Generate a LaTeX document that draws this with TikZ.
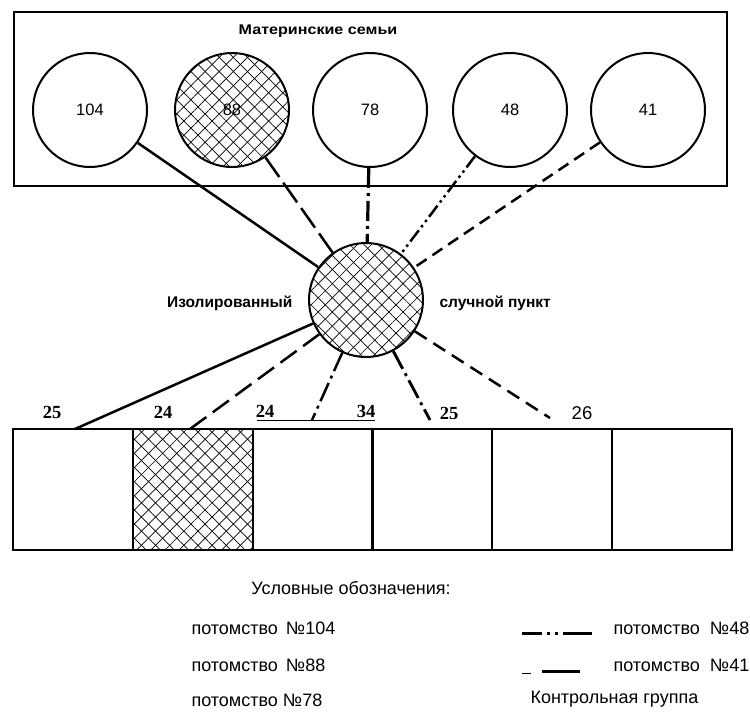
\documentclass[tikz,border=0pt]{standalone}
\usepackage{fontspec}
\setmainfont{Liberation Sans}
\newfontfamily\numserif{Liberation Serif}
\usetikzlibrary{patterns.meta}
\begin{document}
\begin{tikzpicture}[x=1pt,y=-1pt,
  famcirc/.style={circle,draw,line width=2pt,minimum size=114pt,inner sep=0pt,font=\fontsize{16.5}{16.5}\selectfont},
  hatched/.style={postaction={pattern={Lines[angle=45,distance=10pt,line width=0.7pt]}},
                  postaction={pattern={Lines[angle=-45,distance=10pt,line width=0.7pt]}}},
  cell/.style={rectangle,draw,line width=2.2pt,minimum width=119.8pt,minimum height=121pt,inner sep=0pt},
  conn/.style={line width=2.5pt},
  l88/.style={dash pattern=on 24pt off 7pt},
  l78/.style={dash pattern=on 20pt off 5pt on 3pt off 5pt},
  l48/.style={dash pattern=on 14pt off 4pt on 2.5pt off 4pt on 2.5pt off 4pt},
  l41/.style={dash pattern=on 12pt off 7pt},
  lbl/.style={font=\fontsize{15.5}{16}\selectfont\bfseries},
  numlbl/.style={font=\fontsize{18.5}{18.5}\selectfont\numserif\bfseries},
  legtxt/.style={font=\fontsize{18}{18}\selectfont,anchor=west}
]
\useasboundingbox (0,0) rectangle (750,715);
% top frame
\node[rectangle,draw,line width=2.2pt,minimum width=713pt,minimum height=174pt,inner sep=0pt] (topframe) at (370.5,99) {};
\node (title) at (318,31) {\fontsize{14}{14}\selectfont\bfseries\scalebox{1.15}[1]{Материнские семьи}};
% family circles
\node[famcirc] (c104) at (90,110) {104};
\node[famcirc,hatched] (c88) at (232,110) {88};
\node[famcirc] (c78) at (370,110) {78};
\node[famcirc] (c48) at (510,110) {48};
\node[famcirc] (c41) at (648,110) {41};
% isolated mating point
\node[circle,draw,line width=2pt,minimum size=114pt,inner sep=0pt,hatched] (mid) at (366,300) {};
\node[lbl,anchor=east] (lleft) at (296,303) {Изолированный};
\node[lbl,anchor=west] (lright) at (436,303) {случной пункт};
% upper connectors
\draw[conn] (c104) -- (mid);
\draw[conn,l88] (c88) -- (mid);
\draw[conn,l78,line width=3.2pt] (c78) -- (mid);
\draw[conn,l48] (c48) -- (mid);
\draw[conn,l41] (c41) -- (mid);
% bottom cells
\node[cell] (b1) at (72.9,489.5) {};
\node[cell,hatched] (b2) at (192.7,489.5) {};
\node[cell] (b3) at (312.5,489.5) {};
\node[cell] (b4) at (432.3,489.5) {};
\node[cell] (b5) at (552.1,489.5) {};
\node[cell] (b6) at (671.9,489.5) {};
% lower connector ends
\coordinate (e1) at (75,429);
\coordinate (e2) at (190,429);
\coordinate (e3) at (312,420);
\coordinate (e4) at (430,420);
\coordinate (e5) at (550,418);
\draw[conn] (mid) -- (e1);
\draw[conn,dash pattern=on 20pt off 8pt] (mid) -- (e2);
\draw[conn,l78] (mid) -- (e3);
\draw[conn,l78,line width=2.9pt] (mid) -- (e4);
\draw[conn,dash pattern=on 14pt off 8pt] (mid) -- (e5);
% numbers above cells
\node[numlbl] (n25a) at (52,412) {25};
\node[numlbl] (n24a) at (163,412) {24};
\node[numlbl] (n24b) at (265,411) {24};
\node[numlbl] (n34) at (366,411) {34};
\node[numlbl] (n25b) at (449,413) {25};
\node[font=\fontsize{18.5}{18.5}\selectfont] (n26) at (582,413) {26};
\coordinate (u1) at (257,420);
\coordinate (u2) at (375,420);
\draw[line width=1pt] (u1) -- (u2);
% legend
\node[font=\fontsize{18}{18}\selectfont] (lgtitle) at (351,588) {Условные обозначения:};
\node[legtxt] (lg104) at (188,628) {потомство \,№104};
\node[legtxt] (lg88) at (188,665) {потомство \,№88};
\node[legtxt] (lg78) at (188,700) {потомство №78};
\node[legtxt] (lg48) at (610,628) {потомство \ №48};
\node[legtxt] (lg41) at (610,665) {потомство \ №41};
\node[legtxt] (lgctl) at (527,699) {Контрольная группа};
\coordinate (s48a) at (522,633);
\coordinate (s48b) at (592,633);
\draw[line width=3pt,dash pattern=on 20pt off 5pt on 3pt off 5pt on 3pt off 5pt on 40pt] (s48a) -- (s48b);
\coordinate (s41a) at (522,673);
\coordinate (s41b) at (531,673);
\coordinate (s41c) at (542,671);
\coordinate (s41d) at (580,671);
\draw[line width=1pt] (s41a) -- (s41b);
\draw[line width=3pt] (s41c) -- (s41d);
\end{tikzpicture}
\end{document}
